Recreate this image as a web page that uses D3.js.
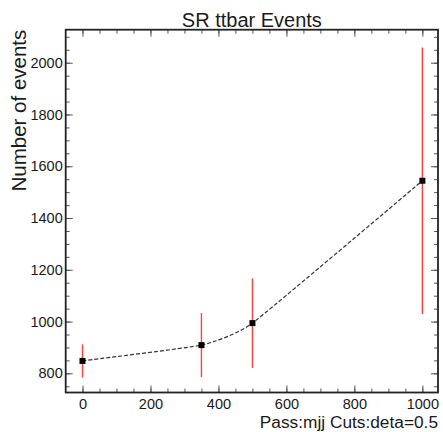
<!DOCTYPE html>
<html>
<head>
<meta charset="utf-8">
<script src="https://cdn.jsdelivr.net/npm/d3@7"></script>
<style>
  html, body { margin: 0; padding: 0; background: #fff; }
  svg { display: block; }
  text { font-family: "Liberation Sans", Arial, Helvetica, sans-serif; fill: #1a1a1a; }
</style>
</head>
<body>
<svg id="chart" width="443" height="432"></svg>
<script>
// ---- data ----
const xValues = [0, 350, 500, 1000];
const yValues = [848, 909, 994, 1544];
const yErrors = [64, 124, 173, 515];
const xTickValues = [0, 200, 400, 600, 800, 1000];
const yTickValues = [800, 1000, 1200, 1400, 1600, 1800, 2000];
const titleText = "SR ttbar Events";
const yTitleText = "Number of events";
const xTitleText = "Pass:mjj Cuts:deta=0.5";

const svg = d3.select("#chart");
const frame = { left: 65.7, right: 438, top: 29.7, bottom: 392.5 };

const x = d3.scaleLinear().domain([-49.4, 1046]).range([frame.left, frame.right]);
const y = d3.scaleLinear().domain([726, 2127.5]).range([frame.bottom, frame.top]);

const xMinor = d3.range(-50, 1051, 50).filter(v => x(v) > frame.left + 0.5 && x(v) < frame.right - 0.5);
const yMinor = d3.range(750, 2126, 50).filter(v => y(v) < frame.bottom - 0.5 && y(v) > frame.top + 0.5);

const tickColor = "#555";

function styleAxis(g) {
  g.select(".domain").remove();
  g.selectAll("line").attr("stroke", tickColor).attr("stroke-width", 1);
}

// bottom ticks (inward)
svg.append("g").attr("transform", `translate(0,${frame.bottom})`)
  .call(d3.axisBottom(x).tickValues(xMinor).tickSize(-4).tickFormat(""))
  .call(styleAxis);
const xAx = svg.append("g").attr("transform", `translate(0,${frame.bottom})`)
  .call(d3.axisBottom(x).tickValues(xTickValues).tickSize(-7).tickPadding(0).tickFormat(d3.format("d")))
  .call(styleAxis);
xAx.selectAll("text").attr("font-size", "14.5px").attr("fill", "#1a1a1a")
  .attr("y", 16).attr("dy", 0).attr("font-family", '"Liberation Sans", Arial, sans-serif');

// top ticks (inward)
svg.append("g").attr("transform", `translate(0,${frame.top})`)
  .call(d3.axisTop(x).tickValues(xMinor).tickSize(-4).tickFormat(""))
  .call(styleAxis);
svg.append("g").attr("transform", `translate(0,${frame.top})`)
  .call(d3.axisTop(x).tickValues(xTickValues).tickSize(-7).tickFormat(""))
  .call(styleAxis);

// left ticks
svg.append("g").attr("transform", `translate(${frame.left},0)`)
  .call(d3.axisLeft(y).tickValues(yMinor).tickSize(-4).tickFormat(""))
  .call(styleAxis);
const yAx = svg.append("g").attr("transform", `translate(${frame.left},0)`)
  .call(d3.axisLeft(y).tickValues(yTickValues).tickSize(-7).tickPadding(3).tickFormat(d3.format("d")))
  .call(styleAxis);
yAx.selectAll("text").attr("font-size", "14.5px").attr("fill", "#1a1a1a")
  .attr("x", -3).attr("font-family", '"Liberation Sans", Arial, sans-serif');

// right ticks
svg.append("g").attr("transform", `translate(${frame.right},0)`)
  .call(d3.axisRight(y).tickValues(yMinor).tickSize(-4).tickFormat(""))
  .call(styleAxis);
svg.append("g").attr("transform", `translate(${frame.right},0)`)
  .call(d3.axisRight(y).tickValues(yTickValues).tickSize(-7).tickFormat(""))
  .call(styleAxis);

// frame
svg.append("rect")
  .attr("x", frame.left).attr("y", frame.top)
  .attr("width", frame.right - frame.left).attr("height", frame.bottom - frame.top)
  .attr("fill", "none").attr("stroke", "#222").attr("stroke-width", 1.8);

const pts = xValues.map((v, i) => ({ x: v, y: yValues[i], e: yErrors[i] }));

// error bars
svg.append("g").selectAll("line").data(pts).join("line")
  .attr("x1", d => x(d.x)).attr("x2", d => x(d.x))
  .attr("y1", d => y(d.y - d.e)).attr("y2", d => y(d.y + d.e))
  .attr("stroke", "#ff4040").attr("stroke-width", 1.4);

// smooth dashed line
const line = d3.line().x(d => x(d.x)).y(d => y(d.y)).curve(d3.curveCardinal.tension(0.6));
svg.append("path").datum(pts)
  .attr("d", line)
  .attr("fill", "none").attr("stroke", "#333").attr("stroke-width", 1.2)
  .attr("stroke-dasharray", "4,2");

// markers
svg.append("g").selectAll("rect").data(pts).join("rect")
  .attr("x", d => x(d.x) - 3).attr("y", d => y(d.y) - 3)
  .attr("width", 6).attr("height", 6).attr("fill", "#000");

// title
svg.append("text").attr("x", (frame.left + frame.right) / 2).attr("y", 26.5)
  .attr("text-anchor", "middle").attr("font-size", "20px").text(titleText);

// y title
svg.append("text")
  .attr("transform", `translate(26,${frame.top}) rotate(-90)`)
  .attr("text-anchor", "end").attr("font-size", "20.5px").text(yTitleText);

// x title
svg.append("text").attr("x", frame.right).attr("y", 427.5)
  .attr("text-anchor", "end").attr("font-size", "17.3px").text(xTitleText);
</script>
</body>
</html>
